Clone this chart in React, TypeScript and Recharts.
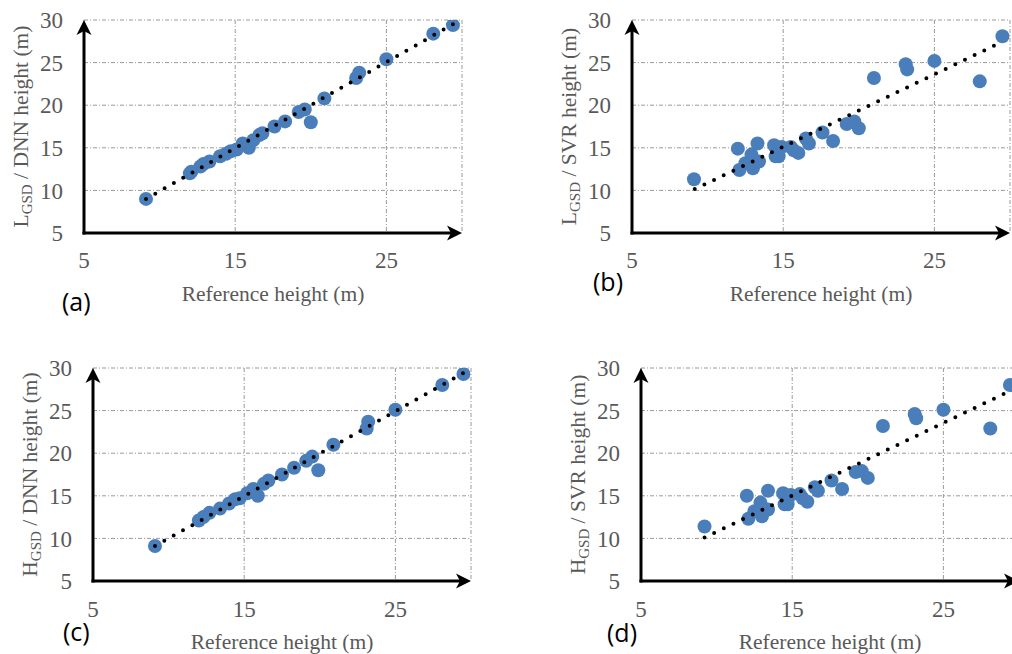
import React from 'react';
import { ScatterChart, Scatter, XAxis, YAxis, CartesianGrid, ReferenceLine, ReferenceDot } from 'recharts';

// ---- data ----
const refL_dnn = [9.1, 12.0, 12.1, 12.7, 12.9, 13.3, 14.0, 14.4, 14.7, 15.1, 15.5, 15.9, 16.2, 16.6, 16.8, 17.6, 18.3, 19.2, 19.6, 20.0, 20.9, 23.0, 23.2, 25.0, 28.1, 29.4];
const estL_dnn = [9.0, 12.0, 12.2, 12.8, 13.1, 13.4, 14.0, 14.3, 14.6, 14.8, 15.5, 15.0, 15.9, 16.5, 16.7, 17.5, 18.1, 19.2, 19.5, 18.0, 20.8, 23.2, 23.8, 25.4, 28.4, 29.4];

const refL_svr = [9.1, 12.0, 12.1, 12.5, 12.9, 13.0, 13.3, 13.4, 14.4, 14.5, 14.7, 14.9, 15.5, 15.7, 16.0, 16.5, 16.7, 17.6, 18.3, 19.2, 19.7, 20.0, 21.0, 23.1, 23.2, 25.0, 28.0, 29.5];
const estL_svr = [11.3, 14.9, 12.4, 13.2, 14.2, 12.6, 15.5, 13.4, 15.3, 14.0, 14.0, 15.1, 15.1, 14.7, 14.4, 16.1, 15.5, 16.8, 15.8, 17.8, 18.1, 17.3, 23.2, 24.8, 24.2, 25.2, 22.8, 28.1];

const refH_dnn = [9.1, 12.0, 12.3, 12.7, 13.4, 14.0, 14.4, 14.7, 15.2, 15.6, 15.9, 16.3, 16.6, 17.5, 18.3, 19.1, 19.5, 19.9, 20.9, 23.1, 23.2, 25.0, 28.1, 29.5];
const estH_dnn = [9.1, 12.1, 12.5, 13.0, 13.5, 14.1, 14.6, 14.7, 15.3, 15.8, 15.0, 16.4, 16.8, 17.5, 18.3, 19.1, 19.6, 18.0, 21.0, 22.9, 23.7, 25.1, 28.0, 29.3];

const refH_svr = [9.2, 12.0, 12.1, 12.5, 12.9, 13.0, 13.4, 13.4, 14.4, 14.5, 14.7, 14.9, 15.5, 15.7, 16.0, 16.5, 16.7, 17.6, 18.3, 19.2, 19.6, 20.0, 21.0, 23.1, 23.2, 25.0, 28.1, 29.4];
const estH_svr = [11.4, 15.0, 12.3, 13.2, 14.2, 12.6, 15.6, 13.4, 15.3, 14.0, 14.0, 15.1, 15.2, 14.7, 14.3, 16.0, 15.6, 16.8, 15.8, 17.8, 17.9, 17.1, 23.2, 24.6, 24.1, 25.1, 22.9, 28.0];

// trendline end points (x = reference, y = estimate)
const trendXL_dnn = [9.1, 29.4];
const trendYL_dnn = [9.0, 29.5];
const trendXL_svr = [9.15, 29.45];
const trendYL_svr = [10.15, 27.4];
const trendXH_dnn = [9.1, 29.5];
const trendYH_dnn = [9.1, 29.4];
const trendXH_svr = [9.2, 29.4];
const trendYH_svr = [10.1, 27.3];

const xTicks = [5, 15, 25];
const yTicks = [5, 10, 15, 20, 25, 30];
const xDomain = [5, 30];
const yDomain = [5, 30];

const zip = (xs: number[], ys: number[]) => xs.map((x, i) => ({ x, y: ys[i] }));

const SERIF = '"Liberation Serif", "Times New Roman", serif';
const GRAY = '#595959';
const BLUE = '#4a7ebb';

const XTitle = (props: any) => {
  const vb = props.viewBox || {};
  return (
    <text x={vb.x + vb.width / 2} y={vb.y + 68} textAnchor="middle" fill={GRAY} fontFamily={SERIF} fontSize={21.5}>
      Reference height (m)
    </text>
  );
};

const YTitle = (props: any) => {
  const vb = props.viewBox || {};
  const cx = vb.x + vb.width - 56;
  const cy = vb.y + vb.height / 2;
  return (
    <text transform={`rotate(-90 ${cx} ${cy})`} x={cx} y={cy} textAnchor="middle" fill={GRAY} fontFamily={SERIF} fontSize={21.5}>
      <tspan>{props.main}</tspan>
      <tspan fontSize={15} dy={4}>GSD</tspan>
      <tspan dy={-4}>{props.rest}</tspan>
    </text>
  );
};

const ArrowRight = (p: any) => (
  <path d={`M${p.cx},${p.cy} L${p.cx - 15},${p.cy - 7.5} L${p.cx - 11},${p.cy} L${p.cx - 15},${p.cy + 7.5} Z`} fill="#000" />
);
const ArrowUp = (p: any) => (
  <path d={`M${p.cx},${p.cy} L${p.cx - 7.5},${p.cy + 15} L${p.cx},${p.cy + 11} L${p.cx + 7.5},${p.cy + 15} Z`} fill="#000" />
);

const Dot = (p: any) => <circle cx={p.cx} cy={p.cy} r={7} fill={BLUE} />;
const NoDot = () => <g />;

type PanelProps = {
  left: number; top: number; width: number; height: number;
  marginTop: number; marginRight: number; yAxisWidth: number; xAxisHeight: number; xTickMargin: number;
  points: { x: number; y: number }[]; trend: { x: number; y: number }[];
  main: string; rest: string;
};

const Panel = (pp: PanelProps) => (
  <div style={{ position: 'absolute', left: pp.left, top: pp.top }}>
    <ScatterChart width={pp.width} height={pp.height} margin={{ top: pp.marginTop, right: pp.marginRight, left: 0, bottom: 0 }}>
      <CartesianGrid stroke="#9a9a9a" strokeWidth={1} strokeDasharray="4 2 1 2" />
      <XAxis
        type="number" dataKey="x" domain={xDomain} ticks={xTicks} allowDataOverflow
        height={pp.xAxisHeight} axisLine={false} tickLine={false} tickSize={0} tickMargin={pp.xTickMargin}
        tick={{ fill: GRAY, fontFamily: SERIF, fontSize: 23 }} interval={0}
        label={<XTitle />}
      />
      <YAxis
        type="number" dataKey="y" domain={yDomain} ticks={yTicks} allowDataOverflow
        width={pp.yAxisWidth} axisLine={false} tickLine={false} tickSize={0} tickMargin={21}
        tick={{ fill: GRAY, fontFamily: SERIF, fontSize: 23 }} interval={0}
        label={<YTitle main={pp.main} rest={pp.rest} />}
      />
      <Scatter data={pp.points} shape={Dot} isAnimationActive={false} />
      <Scatter
        data={pp.trend} shape={NoDot} isAnimationActive={false}
        line={{ stroke: '#000', strokeWidth: 4, strokeDasharray: '0 10.7', strokeLinecap: 'round' } as any}
      />
      <ReferenceLine segment={[{ x: 5, y: 5 }, { x: 29.5, y: 5 }]} stroke="#000" strokeWidth={3} strokeLinecap="square" ifOverflow="visible" />
      <ReferenceLine segment={[{ x: 5, y: 5 }, { x: 5, y: 29.2 }]} stroke="#000" strokeWidth={3} strokeLinecap="square" ifOverflow="visible" />
      <ReferenceDot x={30} y={5} shape={ArrowRight} ifOverflow="visible" />
      <ReferenceDot x={5} y={30} shape={ArrowUp} ifOverflow="visible" />
    </ScatterChart>
  </div>
);

const LABEL_FONT = '"Open Sans", "Liberation Sans", sans-serif';

export default function App() {
  return (
    <div style={{ position: 'absolute', left: 0, top: 0, width: 1012, height: 654, overflow: 'hidden', background: '#fff' }}>
      <Panel left={0} top={0} width={490} height={325} marginTop={20} marginRight={28} yAxisWidth={84} xAxisHeight={92} xTickMargin={19}
        points={zip(refL_dnn, estL_dnn)} trend={zip(trendXL_dnn, trendYL_dnn)} main="L" rest=" / DNN height (m)" />
      <Panel left={500} top={0} width={512} height={325} marginTop={20} marginRight={2} yAxisWidth={132} xAxisHeight={92} xTickMargin={19}
        points={zip(refL_svr, estL_svr)} trend={zip(trendXL_svr, trendYL_svr)} main="L" rest=" / SVR height (m)" />
      <Panel left={0} top={330} width={490} height={324} marginTop={38} marginRight={19} yAxisWidth={93} xAxisHeight={73} xTickMargin={20}
        points={zip(refH_dnn, estH_dnn)} trend={zip(trendXH_dnn, trendYH_dnn)} main="H" rest=" / DNN height (m)" />
      <Panel left={500} top={330} width={530} height={324} marginTop={38} marginRight={11} yAxisWidth={141} xAxisHeight={73} xTickMargin={20}
        points={zip(refH_svr, estH_svr)} trend={zip(trendXH_svr, trendYH_svr)} main="H" rest=" / SVR height (m)" />
      <svg width={1012} height={654} style={{ position: 'absolute', left: 0, top: 0, pointerEvents: 'none' }}>
        <text x={62} y={311} fontFamily={LABEL_FONT} fontSize={25} fill="#000">(a)</text>
        <text x={593} y={291} fontFamily={LABEL_FONT} fontSize={25} fill="#000">(b)</text>
        <text x={63} y={641} fontFamily={LABEL_FONT} fontSize={25} fill="#000">(c)</text>
        <text x={607} y={642} fontFamily={LABEL_FONT} fontSize={25} fill="#000">(d)</text>
      </svg>
    </div>
  );
}
